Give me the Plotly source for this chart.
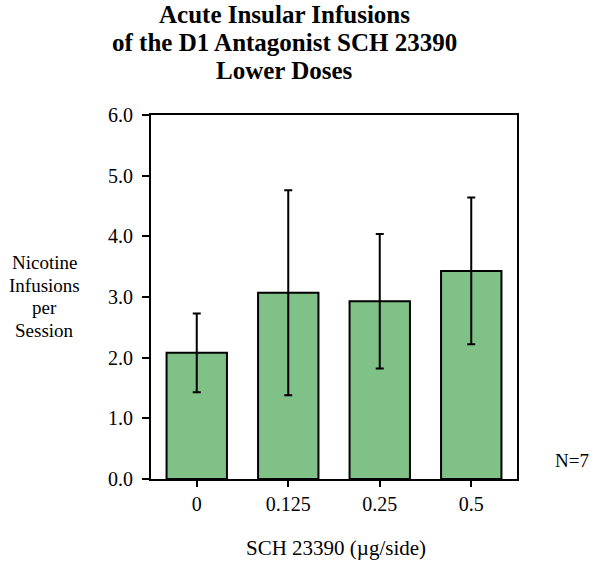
import plotly.graph_objects as go

doses = ["0", "0.125", "0.25", "0.5"]
means = [2.08, 3.07, 2.93, 3.43]
sems = [0.65, 1.69, 1.11, 1.21]

title_lines = ["Acute Insular Infusions", "of the D1 Antagonist SCH 23390", "Lower Doses"]
y_title_lines = ["Nicotine", "Infusions", "per", "Session"]
x_title = "SCH 23390 (µg/side)"
n_label = "N=7"

FONT = "Liberation Serif"

fig = go.Figure()
fig.add_trace(go.Bar(
    x=doses, y=means,
    marker=dict(color="#7fc187", line=dict(color="black", width=2)),
    error_y=dict(type="data", array=sems, visible=True, color="black", thickness=2, width=4),
    width=0.66,
))

W, H = 600, 566
L, R, T, B = 151, 83, 115, 87
ph = H - T - B
pw = W - L - R

def px(x):
    return (x - L) / pw

def py(y):
    return (H - B - y) / ph

annotations = []
for txt, yc in zip(title_lines, [14, 42, 70]):
    annotations.append(dict(text="<b>" + txt + "</b>", x=px(284), y=py(yc), xref="paper", yref="paper",
                            showarrow=False, xanchor="center", yanchor="middle",
                            font=dict(family=FONT, size=25, color="black")))
for txt, yc in zip(y_title_lines, [262, 285, 307, 330]):
    annotations.append(dict(text=txt, x=px(44), y=py(yc), xref="paper", yref="paper",
                            showarrow=False, xanchor="center", yanchor="middle",
                            font=dict(family=FONT, size=19, color="black")))
annotations.append(dict(text=x_title, x=px(336), y=py(548), xref="paper", yref="paper",
                        showarrow=False, xanchor="center", yanchor="middle",
                        font=dict(family=FONT, size=21, color="black")))
annotations.append(dict(text=n_label, x=px(572), y=py(460), xref="paper", yref="paper",
                        showarrow=False, xanchor="center", yanchor="middle",
                        font=dict(family=FONT, size=19, color="black")))

fig.update_layout(
    width=W, height=H,
    margin=dict(l=L, r=R, t=T, b=B),
    paper_bgcolor="white", plot_bgcolor="white",
    showlegend=False,
    font=dict(family=FONT, size=19, color="black"),
    annotations=annotations,
    xaxis=dict(type="category", range=[-0.5, 3.5], showline=True, linecolor="black", linewidth=2,
               mirror=True, ticks="outside", ticklen=6, tickwidth=2, tickcolor="black",
               showgrid=False, zeroline=False, tickfont=dict(family=FONT, size=20)),
    yaxis=dict(range=[0, 6], tickvals=[0, 1, 2, 3, 4, 5, 6], tickformat=".1f",
               showline=True, linecolor="black", linewidth=2, mirror=True,
               ticks="outside", ticklen=7, tickwidth=2, tickcolor="black",
               showgrid=False, zeroline=False, ticklabelstandoff=5,
               tickfont=dict(family=FONT, size=20)),
)

fig.write_html("out.html", config={"displayModeBar": False},
               post_script="document.body.style.margin='0';document.body.style.padding='0';document.body.style.overflow='hidden';")
